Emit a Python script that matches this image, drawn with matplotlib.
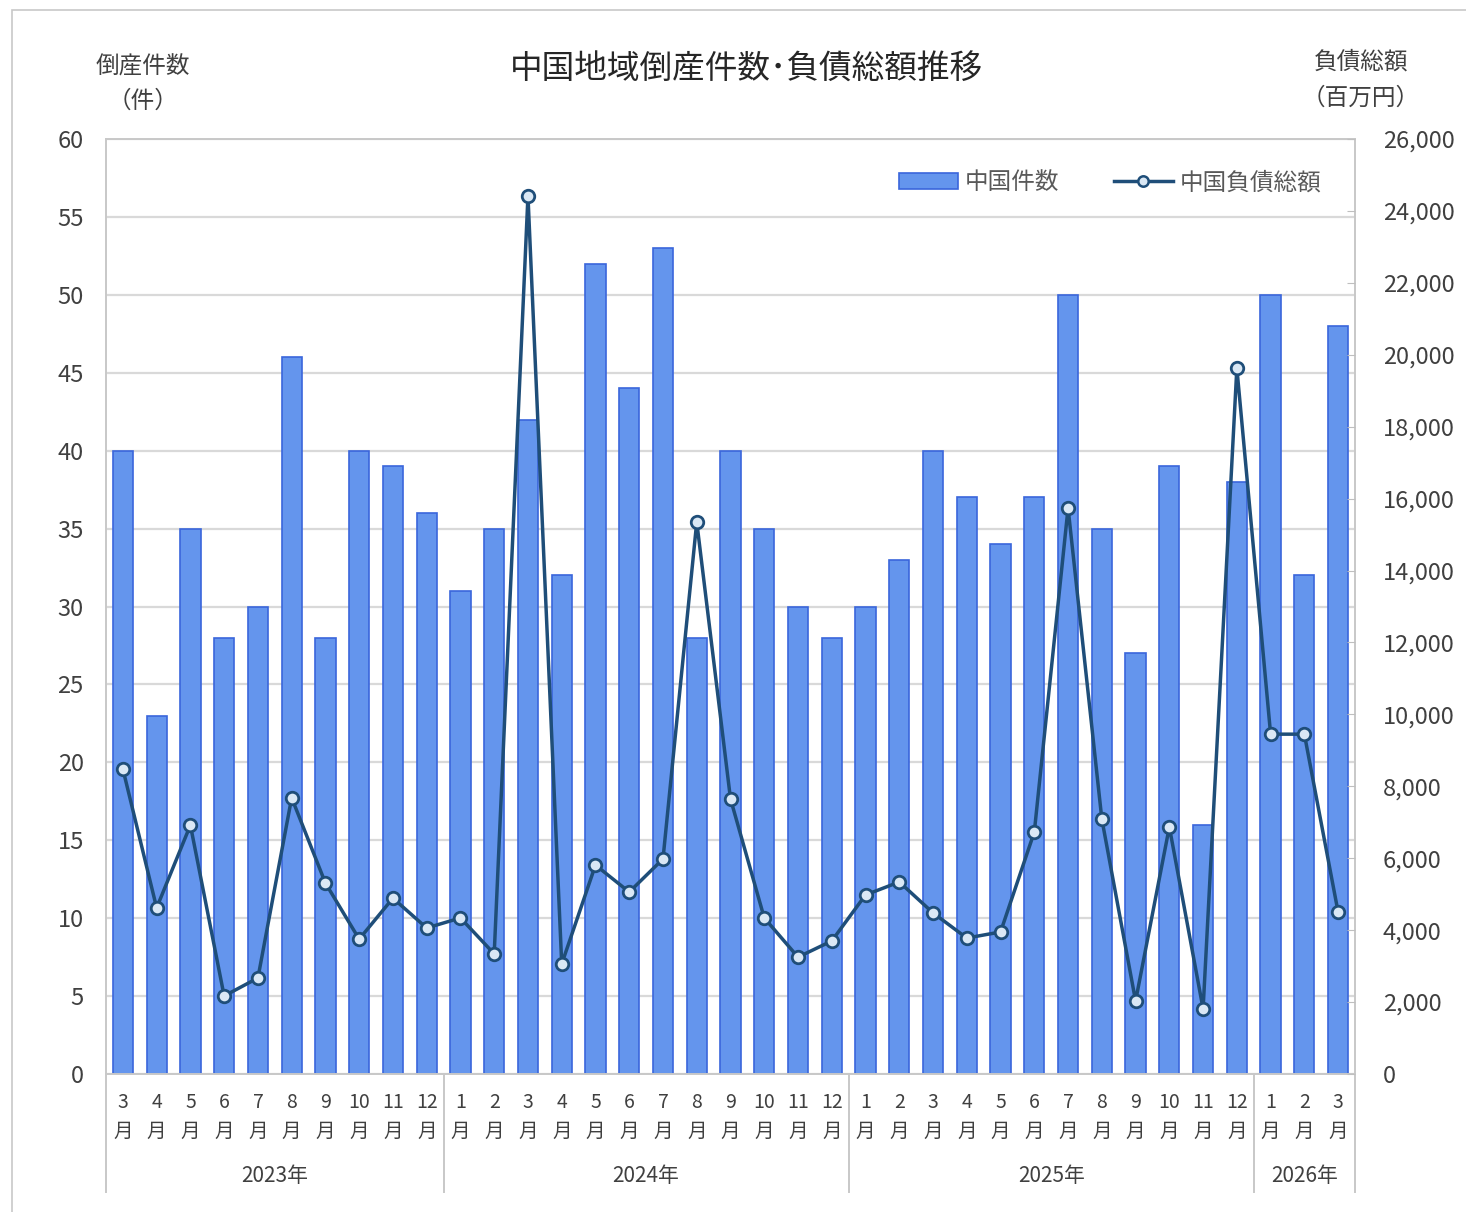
import numpy as np
import matplotlib.pyplot as plt
from matplotlib.patches import Rectangle, Patch
from matplotlib.lines import Line2D
from matplotlib.ticker import FuncFormatter

plt.rcParams['font.family'] = ['Noto Sans CJK JP', 'DejaVu Sans']

# data
years = ['2023年', '2024年', '2025年', '2026年']
months = [list(range(3, 13)), list(range(1, 13)), list(range(1, 13)), [1, 2, 3]]
counts = [40, 23, 35, 28, 30, 46, 28, 40, 39, 36,
          31, 35, 42, 32, 52, 44, 53, 28, 40, 35, 30, 28,
          30, 33, 40, 37, 34, 37, 50, 35, 27, 39, 16, 38,
          50, 32, 48]
debt = [8480, 4620, 6920, 2170, 2670, 7680, 5310, 3750, 4890, 4060,
        4340, 3340, 24420, 3060, 5810, 5060, 5980, 15350, 7650, 4340, 3250, 3700,
        4980, 5340, 4480, 3780, 3950, 6730, 15740, 7090, 2030, 6870, 1810, 19630,
        9450, 9450, 4500]

W, H = 1466, 1212
fig = plt.figure(figsize=(W / 100, H / 100), dpi=100)
txt = '#404040'

# outer chart border (right and bottom run off the image)
fig.patches.append(Rectangle((12 / W, -0.05), 1.2, (H - 10) / H + 0.05, transform=fig.transFigure,
                             fill=False, edgecolor='#C8C8C8', linewidth=1.2))

ax = fig.add_axes([106 / W, (H - 1074) / H, (1355 - 106) / W, (1074 - 139) / H])
n = len(counts)
x = np.arange(n)
ax.bar(x, counts, width=0.6, color='#6495ED', edgecolor='#3A66DB', linewidth=1.2, zorder=2)
ax.set_xlim(-0.5, n - 0.5)
ax.set_ylim(0, 60)
ax.set_yticks(range(0, 61, 5))
ax.set_axisbelow(True)
ax.grid(axis='y', color='#D9D9D9', linewidth=1.6)
ax.tick_params(axis='y', length=0, pad=16, labelsize=17, labelcolor=txt)
ax.set_xticks([])
for s in ax.spines.values():
    s.set_color('#C8C8C8')
    s.set_linewidth(1.4)

ax2 = ax.twinx()
ax2.plot(x, debt, color='#1F4E79', linewidth=2.5, marker='o', markersize=9,
         markerfacecolor='#DAE8F5', markeredgecolor='#1F4E79', markeredgewidth=2, zorder=3)
ax2.set_ylim(0, 26000)
ax2.set_yticks(range(0, 26001, 2000))
ax2.yaxis.set_major_formatter(FuncFormatter(lambda v, p: f'{int(v):,}'))
ax2.tick_params(axis='y', direction='in', length=6, color='#BFBFBF', pad=20,
                labelsize=17, labelcolor=txt)
for s in ax2.spines.values():
    s.set_visible(False)

# x-axis labels
trans = ax.get_xaxis_transform()
i = 0
bounds = [-0.5]
for yr, ms in zip(years, months):
    start = i
    for m in ms:
        ax.text(i, -0.030, str(m), transform=trans, ha='center', va='center',
                fontsize=14, color=txt)
        ax.text(i, -0.061, '月', transform=trans, ha='center', va='center',
                fontsize=14, color=txt)
        i += 1
    ax.text((start + i - 1) / 2, -0.109, yr, transform=trans, ha='center', va='center',
            fontsize=15, color=txt)
    bounds.append(i - 0.5)
for b in bounds:
    ax.add_line(Line2D([b, b], [0, -0.126], transform=trans, color='#C8C8C8',
                       linewidth=1.4, clip_on=False))

# legend
handles = [Patch(facecolor='#6495ED', edgecolor='#3A66DB', linewidth=1.2),
           Line2D([], [], color='#1F4E79', linewidth=2.5, marker='o', markersize=7.5,
                  markerfacecolor='#DAE8F5', markeredgecolor='#1F4E79', markeredgewidth=1.8)]
ax2.legend(handles, ['中国件数', '中国負債総額'], loc='center', bbox_to_anchor=(0.804, 0.953),
           ncol=2, frameon=False, fontsize=17, labelcolor='#595959',
           handlelength=2.5, columnspacing=2.3, handletextpad=0.3)

# titles
fig.text(746 / W, 1 - 70 / H, '中国地域倒産件数･負債総額推移', ha='center', va='center',
         fontsize=23.5, color='#262626')
fig.text(143 / W, 1 - 67 / H, '倒産件数', ha='center', va='center', fontsize=17, color=txt)
fig.text(143 / W, 1 - 101 / H, '（件）', ha='center', va='center', fontsize=17, color=txt)
fig.text(1361 / W, 1 - 62 / H, '負債総額', ha='center', va='center', fontsize=17, color=txt)
fig.text(1361 / W, 1 - 98 / H, '（百万円）', ha='center', va='center', fontsize=17, color=txt)

fig.savefig('out.png', dpi=100)
